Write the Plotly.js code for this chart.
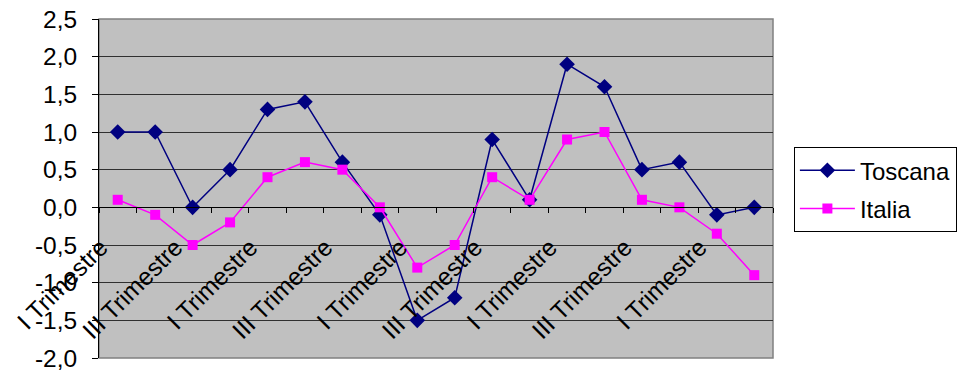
<!DOCTYPE html>
<html>
<head>
<meta charset="utf-8">
<script src="https://cdn.plot.ly/plotly-3.0.1.min.js"></script>
<style>html,body{margin:0;padding:0;background:#fff;}#chart{width:967px;height:374px;}</style>
</head>
<body>
<div id="chart"></div>
<script>
// Quarters (I..IV Trimestre, repeated), 18 periods
const quarters = ["I Trimestre","II Trimestre","III Trimestre","IV Trimestre",
  "I Trimestre","II Trimestre","III Trimestre","IV Trimestre",
  "I Trimestre","II Trimestre","III Trimestre","IV Trimestre",
  "I Trimestre","II Trimestre","III Trimestre","IV Trimestre",
  "I Trimestre","II Trimestre"];
const toscana = [1.0, 1.0, 0.0, 0.5, 1.3, 1.4, 0.6, -0.1, -1.5, -1.2, 0.9, 0.1, 1.9, 1.6, 0.5, 0.6, -0.1, 0.0];
const italia  = [0.1, -0.1, -0.5, -0.2, 0.4, 0.6, 0.5, 0.0, -0.8, -0.5, 0.4, 0.1, 0.9, 1.0, 0.1, 0.0, -0.35, -0.9];
const yTickVals = [-2.0, -1.5, -1.0, -0.5, 0.0, 0.5, 1.0, 1.5, 2.0, 2.5];
const yTickText = ["-2,0","-1,5","-1,0","-0,5","0,0","0,5","1,0","1,5","2,0","2,5"];

const idx = quarters.map((q, i) => i);
const labelIdx = idx.filter(i => i % 2 === 0);
const labelText = labelIdx.map(i => quarters[i]);
const boundaries = idx.map(i => i - 0.5).concat([quarters.length - 0.5]);

const font = {family: "Liberation Sans, Arial, sans-serif", size: 24.5, color: "#000"};
const legendFont = {family: "Liberation Sans, Arial, sans-serif", size: 24, color: "#000"};

const traces = [
  {x: idx, y: toscana, name: "Toscana", type: "scatter", mode: "lines+markers",
   line: {color: "#000080", width: 1.5}, marker: {symbol: "diamond", size: 12, color: "#000080"},
   legendgroup: "a"},
  {x: idx, y: italia, name: "Italia", type: "scatter", mode: "lines+markers",
   line: {color: "#FF00FF", width: 1.5}, marker: {symbol: "square", size: 10, color: "#FF00FF"},
   legendgroup: "b"}
];

const layout = {
  width: 967, height: 374,
  margin: {l: 99, r: 194, t: 19, b: 16, autoexpand: false},
  paper_bgcolor: "#fff", plot_bgcolor: "#C0C0C0",
  font: font,
  showlegend: true,
  legend: {x: 1.031, y: 0.622, xanchor: "left", yanchor: "top",
           bordercolor: "#000", borderwidth: 1, bgcolor: "#fff",
           font: legendFont, tracegroupgap: 4, itemwidth: 55},
  xaxis: {
    range: [-0.5, quarters.length - 0.5],
    anchor: "free", position: 2 / 4.5,
    tickmode: "array", tickvals: labelIdx, ticktext: labelText,
    tickangle: -45, ticks: "", showgrid: false, zeroline: false,
    showline: true, linecolor: "#000", linewidth: 1,
    ticklabelstandoff: 15, ticklabelshift: -17,
    minor: {tickmode: "array", tickvals: boundaries, ticks: "outside", ticklen: 5, tickcolor: "#000", showgrid: false},
    tickfont: font
  },
  yaxis: {
    range: [-2.0, 2.5],
    tickmode: "array", tickvals: yTickVals, ticktext: yTickText,
    ticks: "outside", ticklen: 6, tickcolor: "#000",
    showgrid: true, gridcolor: "#303030", gridwidth: 1,
    zeroline: false, showline: true, linecolor: "#000", linewidth: 1,
    ticklabelstandoff: 10,
    tickfont: font
  },
  shapes: [{type: "rect", xref: "paper", yref: "paper", x0: 0, x1: 1, y0: 0, y1: 1,
            line: {color: "#808080", width: 1.5}, layer: "below"}]
};

Plotly.newPlot("chart", traces, layout, {displayModeBar: false, staticPlot: true});
</script>
</body>
</html>
